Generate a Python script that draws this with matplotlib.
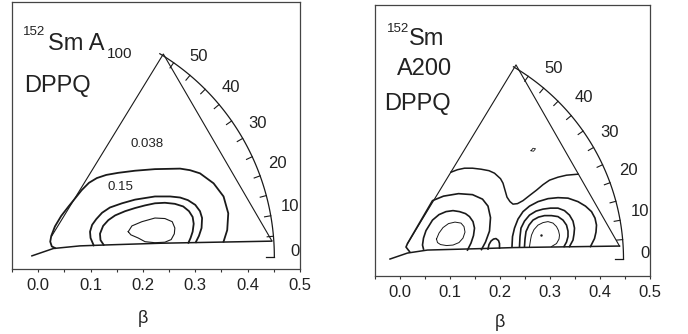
import numpy as np
import matplotlib
matplotlib.use("Agg")
import matplotlib.pyplot as plt

plt.rcParams['font.family'] = ['Liberation Sans', 'DejaVu Sans']

# gamma scale on the arc (degrees)
gamma_labels = [0, 10, 20, 30, 40, 50]
gamma_ticks = [5, 10, 15, 20, 25, 30, 35, 40, 45, 50, 55]
x_major = [0.0, 0.1, 0.2, 0.3, 0.4, 0.5]
x_minor = [-0.05, 0.05, 0.15, 0.25, 0.35, 0.45]

# ---- left panel: A100 ----
l_base_x = [-0.012, 0.029, 0.080, 0.137, 0.233, 0.446]
l_base_y = [0.002, 0.016, 0.021, 0.023, 0.026, 0.030]
l_tri_x = [0.026, 0.239, 0.446]
l_tri_y = [0.040, 0.386, 0.031]
l_c1_x = [0.032, 0.026, 0.023, 0.025, 0.032, 0.044, 0.058, 0.071, 0.083, 0.097, 0.112,
          0.130, 0.153, 0.185, 0.223, 0.271, 0.290, 0.309, 0.335, 0.354, 0.363, 0.361, 0.354]
l_c1_y = [0.017, 0.020, 0.029, 0.040, 0.058, 0.078, 0.096, 0.112, 0.127, 0.141, 0.150,
          0.156, 0.160, 0.164, 0.167, 0.168, 0.165, 0.159, 0.140, 0.115, 0.083, 0.051, 0.029]
l_c2_x = [0.106, 0.100, 0.099, 0.103, 0.111, 0.122, 0.137, 0.160, 0.185, 0.223, 0.252,
          0.271, 0.286, 0.300, 0.309, 0.313, 0.312, 0.307, 0.301]
l_c2_y = [0.022, 0.036, 0.048, 0.061, 0.072, 0.084, 0.094, 0.102, 0.109, 0.115, 0.115,
          0.113, 0.108, 0.099, 0.087, 0.074, 0.055, 0.040, 0.028]
l_c3_x = [0.125, 0.119, 0.118, 0.124, 0.134, 0.147, 0.166, 0.185, 0.204, 0.223, 0.242,
          0.261, 0.277, 0.288, 0.295, 0.297, 0.295, 0.291, 0.287]
l_c3_y = [0.023, 0.032, 0.044, 0.059, 0.070, 0.079, 0.087, 0.093, 0.098, 0.102, 0.103,
          0.101, 0.096, 0.087, 0.076, 0.063, 0.048, 0.036, 0.027]
l_c4_x = [0.172, 0.179, 0.198, 0.223, 0.242, 0.256, 0.261, 0.260, 0.254, 0.242, 0.223,
          0.204, 0.191, 0.177, 0.172]
l_c4_y = [0.048, 0.059, 0.067, 0.074, 0.073, 0.067, 0.055, 0.044, 0.033, 0.028, 0.027,
          0.029, 0.036, 0.042, 0.048]
l_levels = ["0.038", "0.15"]
l_level_xy = [(0.208, 0.215), (0.158, 0.133)]

# ---- right panel: A200 ----
r_base_x = [-0.020, 0.015, 0.055, 0.166, 0.229, 0.439]
r_base_y = [0.000, 0.012, 0.018, 0.021, 0.023, 0.026]
r_tri_x = [0.015, 0.232, 0.439]
r_tri_y = [0.031, 0.389, 0.026]
r_top_x = [0.102, 0.115, 0.129, 0.145, 0.162, 0.178, 0.189, 0.201, 0.206, 0.210, 0.214,
           0.220, 0.226, 0.235, 0.246, 0.260, 0.273, 0.286, 0.299, 0.316, 0.333, 0.356]
r_top_y = [0.174, 0.179, 0.182, 0.182, 0.180, 0.177, 0.172, 0.161, 0.152, 0.138, 0.124,
           0.115, 0.110, 0.111, 0.117, 0.128, 0.138, 0.149, 0.158, 0.164, 0.168, 0.170]
r_l1_x = [0.019, 0.012, 0.015, 0.065, 0.087, 0.117, 0.145, 0.165, 0.176, 0.181, 0.179, 0.171, 0.163]
r_l1_y = [0.015, 0.024, 0.031, 0.117, 0.126, 0.131, 0.129, 0.120, 0.106, 0.083, 0.056, 0.034, 0.019]
r_l2_x = [0.047, 0.045, 0.047, 0.052, 0.065, 0.078, 0.092, 0.106, 0.119, 0.131, 0.139,
          0.146, 0.149, 0.147, 0.142, 0.135]
r_l2_y = [0.020, 0.028, 0.042, 0.057, 0.078, 0.089, 0.095, 0.097, 0.095, 0.091, 0.085,
          0.075, 0.062, 0.047, 0.032, 0.018]
r_l3_x = [0.073, 0.078, 0.086, 0.097, 0.110, 0.122, 0.128, 0.130, 0.126, 0.118, 0.106,
          0.093, 0.081, 0.075, 0.073]
r_l3_y = [0.040, 0.052, 0.063, 0.071, 0.074, 0.072, 0.065, 0.054, 0.042, 0.033, 0.028,
          0.027, 0.029, 0.033, 0.040]
r_bump_x = [0.176, 0.178, 0.182, 0.187, 0.192, 0.197, 0.199, 0.199]
r_bump_y = [0.020, 0.029, 0.036, 0.040, 0.041, 0.037, 0.031, 0.022]
r_r1_x = [0.224, 0.225, 0.229, 0.236, 0.246, 0.259, 0.276, 0.296, 0.316, 0.336, 0.356,
          0.371, 0.383, 0.390, 0.393, 0.392, 0.389, 0.381]
r_r1_y = [0.025, 0.045, 0.062, 0.080, 0.095, 0.106, 0.115, 0.121, 0.123, 0.122, 0.115,
          0.106, 0.095, 0.082, 0.068, 0.054, 0.041, 0.025]
r_r2_x = [0.239, 0.240, 0.242, 0.249, 0.259, 0.272, 0.286, 0.301, 0.316, 0.329, 0.339,
          0.346, 0.349, 0.348, 0.346, 0.339]
r_r2_y = [0.025, 0.045, 0.062, 0.076, 0.088, 0.096, 0.100, 0.102, 0.102, 0.097, 0.088,
          0.076, 0.062, 0.050, 0.038, 0.025]
r_r3_x = [0.249, 0.250, 0.252, 0.258, 0.266, 0.277, 0.289, 0.303, 0.316, 0.326, 0.333,
          0.336, 0.336, 0.333, 0.328]
r_r3_y = [0.025, 0.040, 0.055, 0.068, 0.078, 0.084, 0.087, 0.087, 0.085, 0.078, 0.068,
          0.056, 0.045, 0.034, 0.025]
r_r4_x = [0.259, 0.261, 0.263, 0.268, 0.276, 0.286, 0.296, 0.306, 0.313, 0.317, 0.319,
          0.318, 0.313, 0.303]
r_r4_y = [0.025, 0.038, 0.048, 0.059, 0.068, 0.073, 0.075, 0.072, 0.065, 0.057, 0.048,
          0.040, 0.031, 0.025]
r_dot = (0.282, 0.048)
r_small_x = [0.262, 0.266, 0.271, 0.267, 0.262]
r_small_y = [0.217, 0.222, 0.221, 0.216, 0.217]

INK = '#1a1a1a'
W, H = 688, 334
fig = plt.figure(figsize=(W / 100, H / 100), dpi=100)


def px_axes(left, top, right, bottom):
    return fig.add_axes([left / W, 1 - bottom / H, (right - left) / W, (bottom - top) / H])


def setup(ax, ylim, label_y):
    ax.set_xlim(-0.05, 0.5)
    ax.set_ylim(*ylim)
    ax.set_xticks(x_major)
    ax.set_xticklabels(['%.1f' % v for v in x_major])
    ax.set_xticks(x_minor, minor=True)
    ax.set_yticks([])
    ax.tick_params(axis='x', which='both', direction='out', length=2.5, width=0.8,
                   color='#333333', labelsize=12, pad=4, labelcolor='#222222')
    for s in ax.spines.values():
        s.set_color('#444444')
        s.set_linewidth(0.9)
    ax.set_xlabel('β', fontsize=13, color='#222222')
    ax.xaxis.set_label_coords(0.25 / 0.55, label_y)


def gamma_scale(ax, r, gmax):
    g = np.radians(np.linspace(0, gmax, 120))
    ax.plot(r * np.cos(g), r * np.sin(g), color=INK, lw=0.9)
    ax.plot([r - 0.016, r], [0, 0], color=INK, lw=0.9)
    for t in gamma_ticks:
        a = np.radians(t)
        ax.plot([(r - 0.012) * np.cos(a), r * np.cos(a)],
                [(r - 0.012) * np.sin(a), r * np.sin(a)], color=INK, lw=0.8)
    for t in gamma_labels:
        a = np.radians(t + 1.2)
        ax.text(0.49 * np.cos(a), 0.49 * np.sin(a), str(t), fontsize=12,
                ha='center', va='center', color='#222222')


# left
ax1 = px_axes(12, 2, 300, 269)
setup(ax1, (-0.023, 0.485), -0.152)
gamma_scale(ax1, 0.451, 59)
ax1.plot(l_tri_x, l_tri_y, color=INK, lw=0.8)
ax1.plot(l_base_x, l_base_y, color=INK, lw=1.1)
ax1.plot(l_c1_x, l_c1_y, color=INK, lw=1.3)
ax1.plot(l_c2_x, l_c2_y, color=INK, lw=1.3)
ax1.plot(l_c3_x, l_c3_y, color=INK, lw=1.3)
ax1.plot(l_c4_x, l_c4_y, color=INK, lw=0.8)
for lab, (lx, ly) in zip(l_levels, l_level_xy):
    ax1.text(lx, ly, lab, fontsize=9.5, ha='center', va='center', color='#222222')

# right
ax2 = px_axes(375, 5, 650, 276)
setup(ax2, (-0.034, 0.509), -0.142)
gamma_scale(ax2, 0.447, 59.5)
ax2.plot(r_tri_x, r_tri_y, color=INK, lw=0.8)
ax2.plot(r_base_x, r_base_y, color=INK, lw=1.1)
ax2.plot(r_top_x, r_top_y, color=INK, lw=1.1)
for cx, cy in [(r_l1_x, r_l1_y), (r_l2_x, r_l2_y), (r_r1_x, r_r1_y), (r_r2_x, r_r2_y),
               (r_r3_x, r_r3_y), (r_bump_x, r_bump_y)]:
    ax2.plot(cx, cy, color=INK, lw=1.2)
ax2.plot(r_l3_x, r_l3_y, color=INK, lw=0.7)
ax2.plot(r_r4_x, r_r4_y, color=INK, lw=0.7)
ax2.plot(r_small_x, r_small_y, color=INK, lw=0.6)
ax2.plot(*r_dot, marker='.', ms=1.5, color=INK)


def ftext(x, y, s, size):
    fig.text(x / W, 1 - y / H, s, fontsize=size, ha='left', va='baseline', color='#222222')


# panel titles (pixel positions of the text baselines)
ftext(23, 35, '152', 9.5)
ftext(48, 50, 'Sm A', 17)
ftext(107, 58, '100', 11)
ftext(24, 92, 'DPPQ', 17)

ftext(387, 32, '152', 9.5)
ftext(409, 45, 'Sm', 17)
ftext(397, 75, 'A200', 17)
ftext(384, 110, 'DPPQ', 17)

fig.savefig('out.png', dpi=100)
